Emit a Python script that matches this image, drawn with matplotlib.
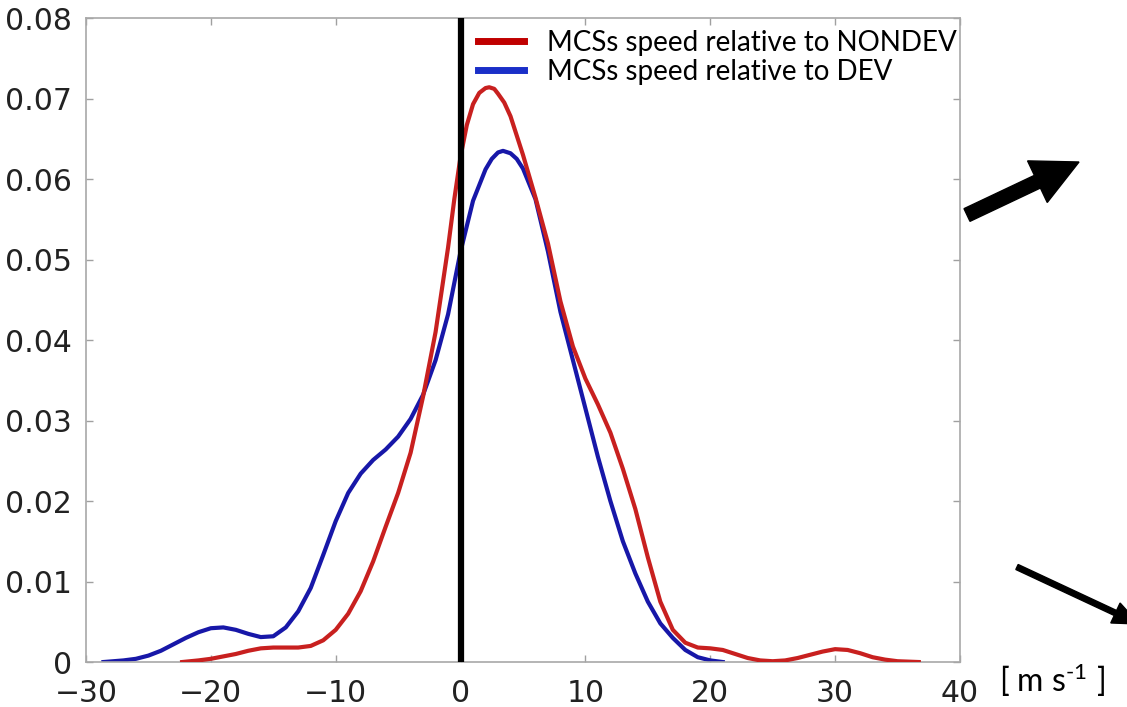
import matplotlib
matplotlib.use("Agg")
import matplotlib.pyplot as plt
from matplotlib.lines import Line2D
from matplotlib.patches import FancyArrow

plt.rcParams["mathtext.fontset"] = "custom"
plt.rcParams["mathtext.rm"] = "Lato"
plt.rcParams["mathtext.it"] = "Lato"

# speed of MCSs relative to the NONDEV system
nondev_x = [-22.3, -21, -20, -19, -18, -17, -16, -15, -14, -13, -12, -11, -10,
            -9, -8, -7, -6, -5, -4, -3, -2, -1, -0.5, 0, 0.5, 1, 1.5, 2, 2.3,
            2.7, 3, 3.5, 4, 5, 6, 7, 8, 9, 10, 11, 12, 13, 14, 15, 16, 17,
            18, 19, 20, 21, 22, 23, 24, 25, 26, 27, 28, 29, 30, 31, 32, 33,
            34, 35, 36.7]
nondev_y = [0.0, 0.0002, 0.0004, 0.0007, 0.0010, 0.0014, 0.0017, 0.0018, 0.0018,
            0.0018, 0.0020, 0.0027, 0.0040, 0.0060, 0.0088, 0.0125, 0.0168,
            0.0210, 0.0260, 0.0330, 0.0410, 0.0515, 0.0575, 0.0628, 0.0667,
            0.0693, 0.0707, 0.0713, 0.0714, 0.0712, 0.0706, 0.0695, 0.0678,
            0.0630, 0.0577, 0.0520, 0.0448, 0.0392, 0.0352, 0.0320, 0.0285,
            0.0240, 0.0190, 0.0130, 0.0075, 0.0040, 0.0024, 0.0018, 0.0017,
            0.0015, 0.0010, 0.0005, 0.0002, 0.0001, 0.0002, 0.0005, 0.0009,
            0.0013, 0.0016, 0.0015, 0.0011, 0.0006, 0.0003, 0.0001, 0.0]

# speed of MCSs relative to the DEV system
dev_x = [-28.6, -27, -26, -25, -24, -23, -22, -21, -20, -19, -18, -17, -16,
         -15, -14, -13, -12, -11, -10, -9, -8, -7, -6, -5, -4, -3, -2, -1, 0,
         1, 2, 2.5, 3, 3.4, 4, 4.5, 5, 6, 7, 8, 9, 10, 11, 12, 13, 14, 15,
         16, 17, 18, 19, 20, 21]
dev_y = [0.0, 0.0002, 0.0004, 0.0008, 0.0014, 0.0022, 0.0030, 0.0037, 0.0042,
         0.0043, 0.0040, 0.0035, 0.0031, 0.0032, 0.0043, 0.0063, 0.0092,
         0.0133, 0.0175, 0.0210, 0.0234, 0.0251, 0.0264, 0.0280, 0.0302,
         0.0332, 0.0375, 0.0432, 0.0510, 0.0573, 0.0612, 0.0625, 0.0633,
         0.0635, 0.0632, 0.0625, 0.0613, 0.0575, 0.0510, 0.0435, 0.0375,
         0.0315, 0.0255, 0.0200, 0.0150, 0.0110, 0.0075, 0.0048, 0.0030,
         0.0015, 0.0006, 0.0002, 0.0]

x_ticks = [-30, -20, -10, 0, 10, 20, 30, 40]
y_ticks = [0, 0.01, 0.02, 0.03, 0.04, 0.05, 0.06, 0.07, 0.08]
y_tick_labels = ["0", "0.01", "0.02", "0.03", "0.04", "0.05", "0.06", "0.07", "0.08"]
legend_labels = ["MCSs speed relative to NONDEV", "MCSs speed relative to DEV"]

red = "#c8201f"
blue = "#1717a8"

fig = plt.figure(figsize=(11.27, 7.07), dpi=100)
ax = fig.add_axes([0.0763, 0.0636, 0.7755, 0.9109])

ax.plot(nondev_x, nondev_y, color=red, lw=3, solid_joinstyle="round", zorder=3)
ax.plot(dev_x, dev_y, color=blue, lw=3, solid_joinstyle="round", zorder=2)
ax.axvline(0, color="black", lw=4.5, zorder=4)

ax.set_xlim(-30, 40)
ax.set_ylim(0, 0.08)
ax.set_xticks(x_ticks)
ax.set_yticks(y_ticks)
ax.set_yticklabels(y_tick_labels)
ax.tick_params(direction="in", length=5, width=1, color="#a0a0a0",
               top=True, right=True, labelsize=21.5, labelcolor="#222222")
ax.tick_params(axis="x", pad=12)
ax.tick_params(axis="y", pad=10)
for lab in ax.get_xticklabels() + ax.get_yticklabels():
    lab.set_family("DejaVu Sans")
for s in ax.spines.values():
    s.set_color("#a8a8a8")
    s.set_linewidth(1.2)

handles = [Line2D([], [], color="#c00000", lw=5),
           Line2D([], [], color="#1a2fc8", lw=5)]
ax.legend(handles, legend_labels, loc="upper left",
          bbox_to_anchor=(0.4357, 0.999), frameon=False,
          prop={"family": "Lato", "size": 20},
          handlelength=1.65, handletextpad=0.85, labelspacing=0.12,
          borderaxespad=0.2, borderpad=0.2)

# decorative arrows outside the axes (pixel positions in inches)
fig.patches.append(FancyArrow(9.67, 4.92, 1.12, 0.53, width=0.14,
                              head_width=0.46, head_length=0.46,
                              length_includes_head=True, color="black",
                              transform=fig.dpi_scale_trans, figure=fig))
fig.patches.append(FancyArrow(10.17, 1.40, 1.22, -0.57, width=0.055,
                              head_width=0.22, head_length=0.26,
                              length_includes_head=True, color="black",
                              transform=fig.dpi_scale_trans, figure=fig))

fig.text(0.886, 0.021, "[ m s$^{\u2010\\mathrm{1}}$ ]", family="Lato", fontsize=23,
         color="black", ha="left", va="baseline")

fig.savefig("out.png", dpi=100)
